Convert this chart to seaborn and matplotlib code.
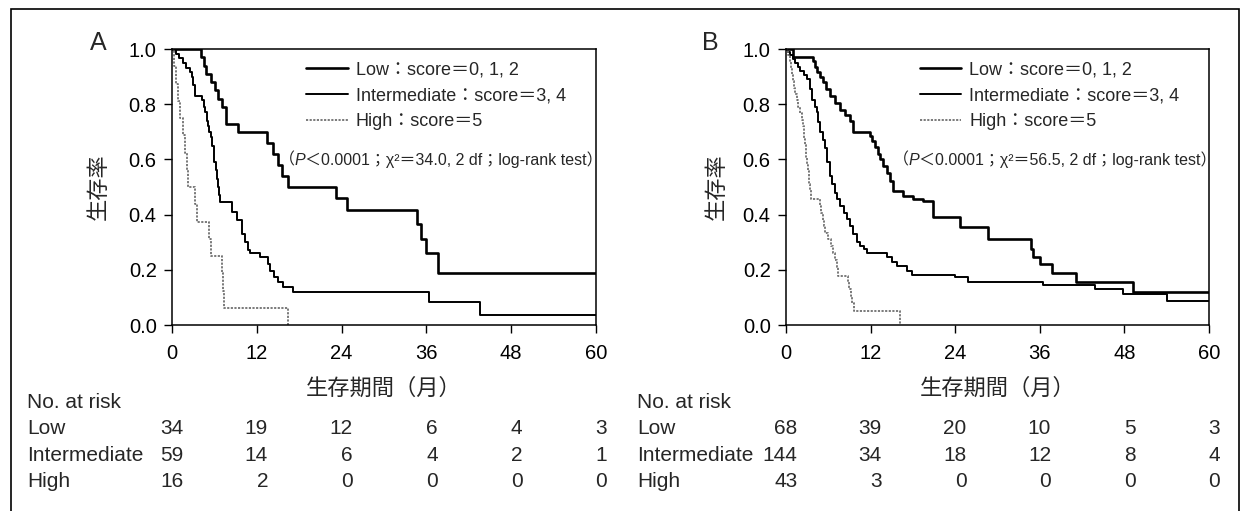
import matplotlib
matplotlib.use("Agg")
import matplotlib.pyplot as plt
import seaborn as sns
import pandas as pd
from matplotlib.lines import Line2D
from matplotlib.patches import Rectangle
import matplotlib.transforms as mtransforms

# ---------------- data ----------------
groups = ["Low", "Intermediate", "High"]
x_ticks = [0, 12, 24, 36, 48, 60]
y_ticks = [0.0, 0.2, 0.4, 0.6, 0.8, 1.0]

# Panel A
low_a_t = [0, 4.1, 4.5, 4.8, 5.5, 6.1, 6.5, 7.1, 7.6, 9.3, 13.4, 14.3, 15.0, 15.5, 16.4,
           23.2, 24.7, 34.6, 35.3, 35.9, 37.7, 60]
low_a_s = [1, .97, .94, .91, .88, .85, .82, .79, .73, .70, .66, .62, .58, .54, .50,
           .46, .415, .365, .31, .26, .19, .19]
int_a_t = [0, 0.5, 1.0, 1.5, 2.0, 2.5, 2.8, 3.0, 3.2, 4.2, 4.5, 4.7, 4.9, 5.1, 5.3, 5.5,
           5.7, 5.9, 6.0, 6.2, 6.3, 6.5, 6.6, 6.8, 8.5, 9.2, 9.9, 10.3, 10.7, 11.0, 12.4,
           13.6, 13.8, 14.5, 15.0, 15.7, 17.1, 36.3, 43.6, 60]
int_a_s = [1, .983, .966, .949, .932, .915, .90, .87, .83, .815, .79, .77, .74, .72, .70, .68,
           .65, .62, .59, .56, .53, .50, .47, .444, .41, .38, .33, .30, .27, .26, .245,
           .22, .195, .173, .155, .137, .12, .083, .036, .036]
high_a_t = [0, 0.3, 0.6, 0.9, 1.2, 1.5, 1.9, 2.1, 2.3, 3.3, 3.5, 5.3, 5.5, 7.1, 7.2, 7.4, 16.4]
high_a_s = [1, .9375, .875, .8125, .75, .6875, .625, .5625, .5, .4375, .375, .3125, .25,
            .1875, .125, .0625, 0]

# Panel B
low_b_t = [0, 1.0, 3.8, 4.1, 4.4, 4.8, 5.2, 5.7, 6.2, 6.9, 7.7, 8.4, 9.1, 9.5, 11.9, 12.2,
           12.6, 13.0, 13.4, 13.8, 14.3, 14.8, 15.2, 16.6, 18.0, 19.5, 20.8, 24.7, 28.6,
           34.7, 35.0, 36.0, 37.7, 41.1, 49.2, 60]
low_b_s = [1, .97, .955, .935, .915, .90, .88, .855, .83, .805, .78, .76, .74, .70, .685, .665,
           .645, .62, .60, .575, .55, .52, .485, .466, .455, .448, .39, .354, .31,
           .274, .245, .22, .19, .155, .12, .12]
int_b_t = [0, 0.3, 0.6, 1.0, 1.3, 1.7, 2.0, 2.5, 3.0, 3.4, 3.7, 4.1, 4.4, 4.6, 4.8, 5.2, 5.5,
           5.8, 6.2, 6.5, 6.9, 7.3, 7.7, 8.2, 8.6, 9.1, 9.5, 10.0, 10.5, 11.0, 11.5, 14.3,
           15.0, 15.7, 17.2, 17.9, 24.0, 25.8, 36.4, 43.8, 47.8, 54.0, 60]
int_b_s = [1, .99, .98, .965, .95, .935, .92, .905, .89, .855, .815, .79, .77, .735, .70, .67,
           .64, .59, .54, .51, .48, .455, .43, .405, .383, .357, .33, .30, .287, .274, .26,
           .245, .228, .213, .195, .18, .173, .155, .144, .13, .112, .087, .087]
high_b_t = [0, 0.3, 0.5, 0.7, 0.9, 1.0, 1.1, 1.3, 1.5, 1.7, 2.0, 2.2, 2.4, 2.5, 2.6, 2.7, 2.8,
            2.9, 3.0, 3.1, 3.2, 3.3, 3.4, 3.5, 4.8, 5.0, 5.2, 5.4, 5.6, 6.0, 6.4, 6.7, 7.0,
            7.2, 7.4, 8.8, 9.0, 9.2, 9.4, 9.6, 16.2]
high_b_s = [1, .977, .953, .93, .907, .884, .86, .837, .814, .79, .767, .744, .72, .698, .674,
            .651, .628, .605, .58, .558, .535, .512, .488, .455, .43, .405, .38, .357, .335,
            .31, .285, .26, .235, .21, .177, .155, .13, .105, .08, .05, 0]

# numbers at risk
risk_a_low = [34, 19, 12, 6, 4, 3]
risk_a_int = [59, 14, 6, 4, 2, 1]
risk_a_high = [16, 2, 0, 0, 0, 0]
risk_b_low = [68, 39, 20, 10, 5, 3]
risk_b_int = [144, 34, 18, 12, 8, 4]
risk_b_high = [43, 3, 0, 0, 0, 0]

chi_a = "34.0"
chi_b = "56.5"

# ---------------- style ----------------
sns.set_style("ticks")
plt.rcParams["font.family"] = ["Liberation Sans", "Noto Sans CJK JP"]
plt.rcParams["axes.linewidth"] = 1.1

W, H = 1247, 511
fig = plt.figure(figsize=(W / 100, H / 100), dpi=100)

styles = {
    "Low": dict(color="black", linewidth=1.9, linestyle="-"),
    "Intermediate": dict(color="black", linewidth=1.4, linestyle="-"),
    "High": dict(color="#707070", linewidth=1.3, linestyle=(0, (1.2, 0.8))),
}
legend_labels = {
    "Low": "Low：score＝0, 1, 2",
    "Intermediate": "Intermediate：score＝3, 4",
    "High": "High：score＝5",
}


def fx(px):
    return px / W


def fy(py):
    return 1 - py / H


def draw_panel(ax_left_px, ax_right_px, curves, risks, chi, letter, letter_x, ylab_x, table_x):
    ax = fig.add_axes([fx(ax_left_px), fy(325), fx(ax_right_px - ax_left_px), (325 - 49) / H])
    for g in groups:
        t, s = curves[g]
        df = pd.DataFrame({"t": t, "s": s})
        sns.lineplot(data=df, x="t", y="s", ax=ax, drawstyle="steps-post", estimator=None,
                     sort=False, **styles[g])
    ax.set_xlim(0, 60)
    ax.set_ylim(0, 1.0)
    ax.set_xticks(x_ticks)
    ax.set_yticks(y_ticks)
    ax.set_yticklabels([f"{v:.1f}" for v in y_ticks])
    ax.tick_params(axis="both", direction="out", length=6, width=1.0, labelsize=14.5,
                   colors="black", pad=5)
    ax.tick_params(axis="x", pad=8)
    for sp in ax.spines.values():
        sp.set_visible(True)
        sp.set_color("black")
    ax.set_xlabel("生存期間（月）", fontsize=16)
    ax.xaxis.set_label_coords(0.5, -0.195)
    ax.set_ylabel("生存率", fontsize=16)
    ax.yaxis.set_label_coords(ylab_x, 0.5)

    handles = [Line2D([], [], **styles[g]) for g in groups]
    ax.legend(handles, [legend_labels[g] for g in groups], loc="upper left",
              bbox_to_anchor=(0.316, 0.955), frameon=False, fontsize=13, borderpad=0,
              borderaxespad=0, handlelength=2.3, handletextpad=0.45, labelspacing=0.5)

    t1 = ax.text(0.252, 0.598, "（", transform=ax.transAxes, fontsize=11.5, va="center",
                 ha="left")
    t2 = ax.annotate("P", xy=(1, 0), xycoords=t1, va="bottom", ha="left", fontsize=11.5,
                     style="italic")
    ax.annotate(f"＜0.0001；χ²＝{chi}, 2 df；log-rank test）", xy=(1, 0), xycoords=t2,
                va="bottom", ha="left", fontsize=11.5)

    fig.text(fx(letter_x), fy(43), letter, fontsize=18, ha="center", va="center")

    # number at risk table
    trans = mtransforms.blended_transform_factory(ax.transData, fig.transFigure)
    fig.text(fx(table_x), fy(402), "No. at risk", fontsize=15, va="center", ha="left")
    rows_y = [428, 455, 481]
    for g, yy in zip(groups, rows_y):
        fig.text(fx(table_x), fy(yy), g, fontsize=15, va="center", ha="left")
        for xv, n in zip(x_ticks, risks[g]):
            ax.text(xv + 1.6, fy(yy), str(n), transform=trans, fontsize=15, va="center",
                    ha="right", clip_on=False)
    return ax


draw_panel(172, 596,
           {"Low": (low_a_t, low_a_s), "Intermediate": (int_a_t, int_a_s),
            "High": (high_a_t, high_a_s)},
           {"Low": risk_a_low, "Intermediate": risk_a_int, "High": risk_a_high},
           chi_a, "A", 98, -0.146, 27)
draw_panel(786, 1209,
           {"Low": (low_b_t, low_b_s), "Intermediate": (int_b_t, int_b_s),
            "High": (high_b_t, high_b_s)},
           {"Low": risk_b_low, "Intermediate": risk_b_int, "High": risk_b_high},
           chi_b, "B", 710, -0.137, 637)

# outer frame (bottom edge falls outside the picture)
fig.add_artist(Rectangle((fx(11), -0.05), fx(1239 - 11), fy(9) + 0.05, transform=fig.transFigure,
                         fill=False, edgecolor="black", linewidth=1.2))

fig.savefig("out.png", dpi=100)
